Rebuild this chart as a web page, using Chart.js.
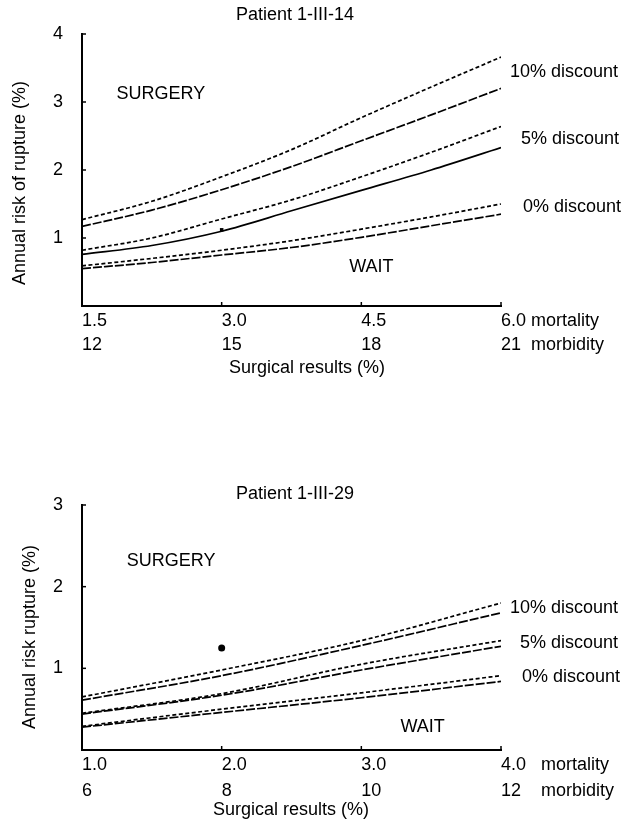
<!DOCTYPE html>
<html>
<head>
<meta charset="utf-8">
<script src="https://cdn.jsdelivr.net/npm/chart.js@4.4.1/dist/chart.umd.min.js"></script>
<style>
  body { margin: 0; background: #fff; width: 629px; height: 822px; position: relative; overflow: hidden; }
  canvas { position: absolute; left: 0; }
  #topChart { top: 0; }
  #bottomChart { top: 410px; }
</style>
</head>
<body>
<canvas id="topChart" width="629" height="410"></canvas>
<canvas id="bottomChart" width="629" height="412"></canvas>
<script>
// patient 1-III-14
const topX = [1.5, 2.25, 3.0, 3.75, 4.5, 5.25, 6.0];
const topTicks = [1.5, 3.0, 4.5, 6.0];
const topMortality = ['1.5', '3.0', '4.5', '6.0 mortality'];
const topMorbidity = ['12', '15', '18', '21  morbidity'];
const top10Upper = [1.27, 1.54, 1.90, 2.30, 2.77, 3.22, 3.66];
const top10Lower = [1.17, 1.41, 1.71, 2.05, 2.43, 2.81, 3.20];
const top5Upper = [0.82, 1.00, 1.28, 1.56, 1.90, 2.26, 2.64];
const top5Lower = [0.76, 0.89, 1.10, 1.40, 1.70, 2.00, 2.33];
const top0Upper = [0.59, 0.70, 0.82, 0.96, 1.13, 1.31, 1.50];
const top0Lower = [0.55, 0.64, 0.75, 0.86, 1.01, 1.18, 1.35];
const topPoint = [{ x: 3.0, y: 1.12 }];

// patient 1-III-29
const bottomX = [1.0, 2.0, 3.0, 4.0];
const bottomTicks = [1.0, 2.0, 3.0, 4.0];
const bottomMortality = ['1.0', '2.0', '3.0', '4.0   mortality'];
const bottomMorbidity = ['6', '8', '10', '12    morbidity'];
const bottom10Upper = [0.65, 0.98, 1.34, 1.80];
const bottom10Lower = [0.61, 0.91, 1.28, 1.68];
const bottom5Upper = [0.45, 0.69, 1.05, 1.34];
const bottom5Lower = [0.44, 0.67, 0.98, 1.27];
const bottom0Upper = [0.29, 0.50, 0.70, 0.91];
const bottom0Lower = [0.28, 0.46, 0.64, 0.84];
const bottomPoint = [{ x: 2.0, y: 1.25 }];

const discountNames = ['10% discount', '5% discount', '0% discount'];

const FONT = '"Liberation Sans", Arial, Helvetica, sans-serif';
Chart.defaults.font.family = FONT;
Chart.defaults.color = '#000';

const SHORT = [4, 2.5];
const LONG = [9, 2];

function line(xs, ys, dash) {
  return {
    type: 'line',
    data: xs.map((x, i) => ({ x: x, y: ys[i] })),
    borderColor: '#000',
    borderWidth: 1.7,
    borderDash: dash,
    pointRadius: 0,
    cubicInterpolationMode: 'monotone',
    fill: false
  };
}

function dot(pts, style, r) {
  return {
    type: 'scatter',
    data: pts,
    pointStyle: style,
    pointRadius: r,
    backgroundColor: '#000',
    borderColor: '#000',
    borderWidth: 0
  };
}

// titles, region names, curve names and the little inward tick marks
const notes = {
  id: 'notes',
  afterDraw(chart, args, o) {
    const { ctx, chartArea: a, scales: { x, y } } = chart;
    ctx.save();
    ctx.strokeStyle = '#000';
    ctx.fillStyle = '#000';
    ctx.lineWidth = 1.5;
    y.ticks.forEach(t => {
      if (t.value <= 0) return;
      const py = y.getPixelForValue(t.value);
      ctx.beginPath(); ctx.moveTo(a.left, py); ctx.lineTo(a.left + 4, py); ctx.stroke();
    });
    x.ticks.forEach(t => {
      const px = x.getPixelForValue(t.value);
      ctx.beginPath(); ctx.moveTo(px, a.bottom); ctx.lineTo(px, a.bottom - 4); ctx.stroke();
    });

    ctx.font = '18px ' + FONT;
    ctx.textBaseline = 'middle';
    ctx.textAlign = 'center';
    ctx.fillText(o.title, o.titleX, o.titleY);
    ctx.fillText('Surgical results (%)', o.xTitleX, o.xTitleY);

    ctx.save();
    ctx.translate(o.yTitleX, o.yTitleY);
    ctx.rotate(-Math.PI / 2);
    ctx.fillText(o.yTitle, 0, 0);
    ctx.restore();

    ctx.textAlign = 'left';
    o.regions.forEach(r => ctx.fillText(r.text, x.getPixelForValue(r.x), y.getPixelForValue(r.y)));
    discountNames.forEach((name, i) => {
      ctx.fillText(name, a.right + o.nameDx[i], y.getPixelForValue(o.nameY[i]));
    });
    ctx.restore();
  }
};

function makeChart(id, cfg) {
  return new Chart(document.getElementById(id), {
    data: {
      datasets: [
        line(cfg.xs, cfg.s[0], SHORT),
        line(cfg.xs, cfg.s[1], LONG),
        line(cfg.xs, cfg.s[2], SHORT),
        line(cfg.xs, cfg.s[3], cfg.solid5 ? [] : LONG),
        line(cfg.xs, cfg.s[4], SHORT),
        line(cfg.xs, cfg.s[5], LONG),
        dot(cfg.point, cfg.pointStyle, cfg.pointRadius)
      ]
    },
    options: {
      responsive: false,
      animation: false,
      devicePixelRatio: 1,
      layout: { padding: { top: cfg.padTop, right: 128, left: 0, bottom: 0 } },
      plugins: { legend: { display: false }, tooltip: { enabled: false }, notes: cfg.notes },
      scales: {
        x: {
          type: 'linear',
          min: cfg.ticks[0],
          max: cfg.ticks[cfg.ticks.length - 1],
          afterBuildTicks: s => { s.ticks = cfg.ticks.map(v => ({ value: v })); },
          afterFit: s => { s.height = cfg.xHeight; },
          grid: { display: false, drawTicks: false },
          border: { color: '#000', width: 2 },
          ticks: {
            autoSkip: false,
            maxRotation: 0,
            align: 'start',
            padding: cfg.xPad,
            color: '#000',
            font: { size: 18, lineHeight: cfg.lineHeight },
            callback: (v, i) => [cfg.mort[i], cfg.morb[i]]
          }
        },
        y: {
          min: 0,
          max: cfg.yMax,
          afterFit: s => { s.width = 82; },
          grid: { display: false, drawTicks: false },
          border: { color: '#000', width: 2 },
          ticks: {
            stepSize: 1,
            padding: 19,
            color: '#000',
            font: { size: 18 },
            callback: v => (v === 0 ? '' : v)
          }
        }
      }
    },
    plugins: [notes]
  });
}

makeChart('topChart', {
  xs: topX, ticks: topTicks,
  s: [top10Upper, top10Lower, top5Upper, top5Lower, top0Upper, top0Lower],
  solid5: true,
  point: topPoint, pointStyle: 'rect', pointRadius: 2.5,
  mort: topMortality, morb: topMorbidity,
  yMax: 4, padTop: 34, xHeight: 104, xPad: 3, lineHeight: 1.33,
  notes: {
    title: 'Patient 1-III-14', titleX: 295, titleY: 15,
    yTitle: 'Annual risk of rupture (%)', yTitleX: 20, yTitleY: 183,
    xTitleX: 307, xTitleY: 368,
    regions: [{ text: 'SURGERY', x: 1.87, y: 3.12 }, { text: 'WAIT', x: 4.37, y: 0.57 }],
    nameDx: [9, 20, 22],
    nameY: [3.44, 2.46, 1.46]
  }
});

makeChart('bottomChart', {
  xs: bottomX, ticks: bottomTicks,
  s: [bottom10Upper, bottom10Lower, bottom5Upper, bottom5Lower, bottom0Upper, bottom0Lower],
  solid5: false,
  point: bottomPoint, pointStyle: 'circle', pointRadius: 3.5,
  mort: bottomMortality, morb: bottomMorbidity,
  yMax: 3, padTop: 95, xHeight: 72, xPad: 2, lineHeight: 1.45,
  notes: {
    title: 'Patient 1-III-29', titleX: 295, titleY: 84,
    yTitle: 'Annual risk rupture (%)', yTitleX: 30, yTitleY: 227,
    xTitleX: 291, xTitleY: 400,
    regions: [{ text: 'SURGERY', x: 1.32, y: 2.31 }, { text: 'WAIT', x: 3.28, y: 0.28 }],
    nameDx: [9, 19, 21],
    nameY: [1.74, 1.31, 0.89]
  }
});
</script>
</body>
</html>
